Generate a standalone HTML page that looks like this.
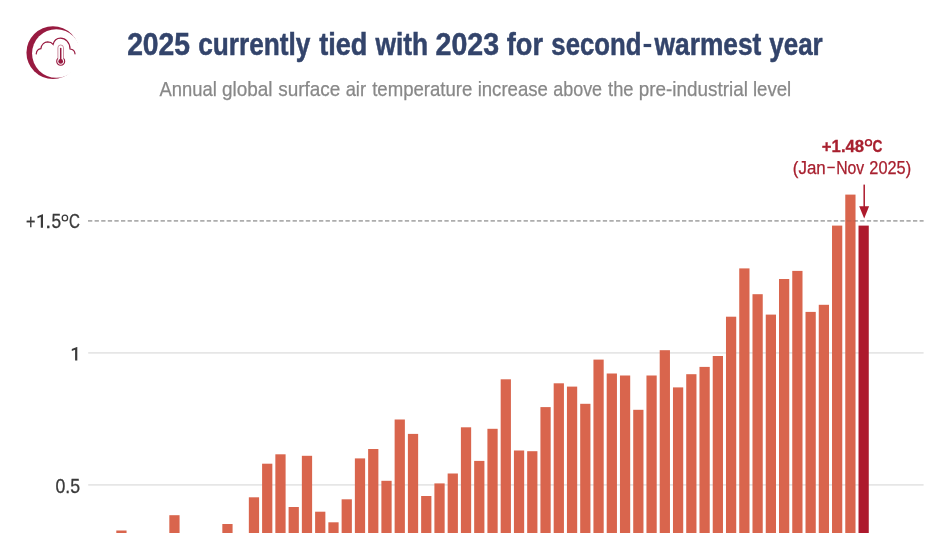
<!DOCTYPE html>
<html><head><meta charset="utf-8"><title>chart</title>
<style>
html,body{margin:0;padding:0;background:#fff;overflow:hidden;}
svg{display:block;opacity:0.9999;}
text{font-family:"Liberation Sans",sans-serif;}
</style></head>
<body>
<svg width="950" height="533" viewBox="0 0 950 533">
<rect width="950" height="533" fill="#ffffff"/>
<!-- logo -->
<g id="logo">
<defs><mask id="cm" maskUnits="userSpaceOnUse" x="0" y="0" width="120" height="120"><rect x="0" y="0" width="120" height="120" fill="#fff"/><circle cx="56.3" cy="53.49" r="24.25" fill="#000"/></mask></defs>
<circle cx="52.9" cy="52.65" r="26.45" fill="#981a40" mask="url(#cm)"/>
<path d="M36.2,53.8 C36.6,51 38.5,49 40.9,48.7 C41.5,44.5 44.5,42 47.7,41.9 C50,41.9 52,42.8 53.1,44.3 C54,40.8 57,38.2 60.5,38.2 C65.5,38.2 70,42.5 70,49 C72.8,49.3 74.8,51.2 75,53.8" fill="none" stroke="#981a40" stroke-width="1.2" stroke-linecap="round"/>
<path d="M57.9,58.4 V47.8 a2.8,2.8 0 0 1 5.6,0 V58.4" fill="none" stroke="#981a40" stroke-width="0.9" opacity="0.55"/>
<path d="M57.9,58.4 A4,4 0 1 0 63.5,58.4" fill="none" stroke="#981a40" stroke-width="1.1"/>
<line x1="60.7" x2="60.7" y1="48.6" y2="61" stroke="#981a40" stroke-width="1.5" stroke-linecap="round"/>
<circle cx="60.7" cy="61.4" r="2.4" fill="#981a40"/>
</g>
<!-- title + subtitle -->
<text x="127.15" y="54.90" font-size="31.6" font-weight="bold" fill="#33446b" stroke="#33446b" stroke-width="0.5" textLength="62.92" lengthAdjust="spacingAndGlyphs">2025</text>
<text x="198.17" y="54.90" font-size="31.6" font-weight="bold" fill="#33446b" stroke="#33446b" stroke-width="0.5" textLength="112.25" lengthAdjust="spacingAndGlyphs">currently</text>
<text x="319.18" y="54.90" font-size="31.6" font-weight="bold" fill="#33446b" stroke="#33446b" stroke-width="0.5" textLength="48.23" lengthAdjust="spacingAndGlyphs">tied</text>
<text x="375.53" y="54.90" font-size="31.6" font-weight="bold" fill="#33446b" stroke="#33446b" stroke-width="0.5" textLength="52.67" lengthAdjust="spacingAndGlyphs">with</text>
<text x="435.58" y="54.90" font-size="31.6" font-weight="bold" fill="#33446b" stroke="#33446b" stroke-width="0.5" textLength="63.48" lengthAdjust="spacingAndGlyphs">2023</text>
<text x="506.83" y="54.90" font-size="31.6" font-weight="bold" fill="#33446b" stroke="#33446b" stroke-width="0.5" textLength="36.15" lengthAdjust="spacingAndGlyphs">for</text>
<text x="551.35" y="54.90" font-size="31.6" font-weight="bold" fill="#33446b" stroke="#33446b" stroke-width="0.5" textLength="90.11" lengthAdjust="spacingAndGlyphs">second</text>
<text x="654.59" y="54.90" font-size="31.6" font-weight="bold" fill="#33446b" stroke="#33446b" stroke-width="0.5" textLength="106.76" lengthAdjust="spacingAndGlyphs">warmest</text>
<text x="769.27" y="54.90" font-size="31.6" font-weight="bold" fill="#33446b" stroke="#33446b" stroke-width="0.5" textLength="53.47" lengthAdjust="spacingAndGlyphs">year</text>
<text x="821.83" y="151.70" font-size="17.2" font-weight="bold" fill="#a8202f" stroke="#a8202f" stroke-width="0.3" textLength="42.35" lengthAdjust="spacingAndGlyphs">+1.48</text>
<text x="872.49" y="151.70" font-size="17.2" font-weight="bold" fill="#a8202f" stroke="#a8202f" stroke-width="0.3" textLength="9.89" lengthAdjust="spacingAndGlyphs">C</text>
<text x="792.85" y="174.00" font-size="17.5" fill="#a8202f" stroke="#a8202f" stroke-width="0.25" textLength="32.93" lengthAdjust="spacingAndGlyphs">(Jan</text>
<text x="836.13" y="174.00" font-size="17.5" fill="#a8202f" stroke="#a8202f" stroke-width="0.25" textLength="28.07" lengthAdjust="spacingAndGlyphs">Nov</text>
<text x="869.37" y="174.00" font-size="17.5" fill="#a8202f" stroke="#a8202f" stroke-width="0.25" textLength="41.76" lengthAdjust="spacingAndGlyphs">2025)</text>
<text x="26.10" y="228.50" font-size="19.4" fill="#3a3a3a" stroke="#3a3a3a" stroke-width="0.3" textLength="9.42" lengthAdjust="spacingAndGlyphs">+</text>
<text x="45.37" y="227.80" font-size="19.4" fill="#3a3a3a" stroke="#3a3a3a" stroke-width="0.3" textLength="5.93" lengthAdjust="spacingAndGlyphs">.</text>
<text x="51.61" y="227.80" font-size="19.4" fill="#3a3a3a" stroke="#3a3a3a" stroke-width="0.3" textLength="9.64" lengthAdjust="spacingAndGlyphs">5</text>
<text x="68.97" y="227.80" font-size="19.4" fill="#3a3a3a" stroke="#3a3a3a" stroke-width="0.3" textLength="10.89" lengthAdjust="spacingAndGlyphs">C</text>
<text x="55.54" y="492.90" font-size="19.8" fill="#3a3a3a" stroke="#3a3a3a" stroke-width="0.3" textLength="24.59" lengthAdjust="spacingAndGlyphs">0.5</text>
<text x="159.47" y="96.00" font-size="20.7" fill="#888888" stroke="#888888" stroke-width="0.25" textLength="57.29" lengthAdjust="spacingAndGlyphs">Annual</text>
<text x="221.91" y="96.00" font-size="20.7" fill="#888888" stroke="#888888" stroke-width="0.25" textLength="50.58" lengthAdjust="spacingAndGlyphs">global</text>
<text x="278.20" y="96.00" font-size="20.7" fill="#888888" stroke="#888888" stroke-width="0.25" textLength="62.12" lengthAdjust="spacingAndGlyphs">surface</text>
<text x="345.65" y="96.00" font-size="20.7" fill="#888888" stroke="#888888" stroke-width="0.25" textLength="20.40" lengthAdjust="spacingAndGlyphs">air</text>
<text x="372.14" y="96.00" font-size="20.7" fill="#888888" stroke="#888888" stroke-width="0.25" textLength="100.28" lengthAdjust="spacingAndGlyphs">temperature</text>
<text x="477.67" y="96.00" font-size="20.7" fill="#888888" stroke="#888888" stroke-width="0.25" textLength="70.24" lengthAdjust="spacingAndGlyphs">increase</text>
<text x="553.23" y="96.00" font-size="20.7" fill="#888888" stroke="#888888" stroke-width="0.25" textLength="48.87" lengthAdjust="spacingAndGlyphs">above</text>
<text x="608.09" y="96.00" font-size="20.7" fill="#888888" stroke="#888888" stroke-width="0.25" textLength="25.47" lengthAdjust="spacingAndGlyphs">the</text>
<text x="638.82" y="96.00" font-size="20.7" fill="#888888" stroke="#888888" stroke-width="0.25" textLength="109.05" lengthAdjust="spacingAndGlyphs">pre-industrial</text>
<text x="752.90" y="96.00" font-size="20.7" fill="#888888" stroke="#888888" stroke-width="0.25" textLength="38.35" lengthAdjust="spacingAndGlyphs">level</text>
<!-- gridlines -->
<line x1="88.2" x2="923.6" y1="352.9" y2="352.9" stroke="#e6e6e6" stroke-width="1.7"/>
<line x1="88.2" x2="923.6" y1="484.8" y2="484.8" stroke="#e6e6e6" stroke-width="1.7"/>
<!-- dashed 1.5 line -->
<line x1="88" x2="923.6" y1="220.85" y2="220.85" stroke="#adadad" stroke-width="1.7" stroke-dasharray="4.3 2.3"/>
<defs><clipPath id="bc"><rect x="845" y="215" width="11.2" height="12"/></clipPath></defs>
<!-- bars -->
<rect x="116.30" y="530.5" width="10.25" height="9.5" fill="#d9654d"/>
<rect x="169.32" y="515.2" width="10.25" height="24.8" fill="#d9654d"/>
<rect x="222.33" y="524.0" width="10.25" height="16.0" fill="#d9654d"/>
<rect x="248.84" y="497.3" width="10.25" height="42.7" fill="#d9654d"/>
<rect x="262.09" y="463.7" width="10.25" height="76.3" fill="#d9654d"/>
<rect x="275.35" y="454.3" width="10.25" height="85.7" fill="#d9654d"/>
<rect x="288.60" y="507.0" width="10.25" height="33.0" fill="#d9654d"/>
<rect x="301.86" y="455.8" width="10.25" height="84.2" fill="#d9654d"/>
<rect x="315.11" y="511.7" width="10.25" height="28.3" fill="#d9654d"/>
<rect x="328.36" y="522.3" width="10.25" height="17.7" fill="#d9654d"/>
<rect x="341.62" y="499.3" width="10.25" height="40.7" fill="#d9654d"/>
<rect x="354.87" y="458.4" width="10.25" height="81.6" fill="#d9654d"/>
<rect x="368.13" y="449.0" width="10.25" height="91.0" fill="#d9654d"/>
<rect x="381.38" y="480.8" width="10.25" height="59.2" fill="#d9654d"/>
<rect x="394.63" y="419.5" width="10.25" height="120.5" fill="#d9654d"/>
<rect x="407.89" y="433.9" width="10.25" height="106.1" fill="#d9654d"/>
<rect x="421.14" y="496.0" width="10.25" height="44.0" fill="#d9654d"/>
<rect x="434.40" y="483.4" width="10.25" height="56.6" fill="#d9654d"/>
<rect x="447.65" y="473.5" width="10.25" height="66.5" fill="#d9654d"/>
<rect x="460.90" y="427.3" width="10.25" height="112.7" fill="#d9654d"/>
<rect x="474.16" y="460.9" width="10.25" height="79.1" fill="#d9654d"/>
<rect x="487.41" y="428.8" width="10.25" height="111.2" fill="#d9654d"/>
<rect x="500.67" y="379.3" width="10.25" height="160.7" fill="#d9654d"/>
<rect x="513.92" y="450.5" width="10.25" height="89.5" fill="#d9654d"/>
<rect x="527.17" y="451.2" width="10.25" height="88.8" fill="#d9654d"/>
<rect x="540.43" y="407.1" width="10.25" height="132.9" fill="#d9654d"/>
<rect x="553.68" y="383.3" width="10.25" height="156.7" fill="#d9654d"/>
<rect x="566.94" y="386.6" width="10.25" height="153.4" fill="#d9654d"/>
<rect x="580.19" y="403.8" width="10.25" height="136.2" fill="#d9654d"/>
<rect x="593.44" y="359.6" width="10.25" height="180.4" fill="#d9654d"/>
<rect x="606.70" y="373.5" width="10.25" height="166.5" fill="#d9654d"/>
<rect x="619.95" y="375.5" width="10.25" height="164.5" fill="#d9654d"/>
<rect x="633.21" y="409.8" width="10.25" height="130.2" fill="#d9654d"/>
<rect x="646.46" y="375.5" width="10.25" height="164.5" fill="#d9654d"/>
<rect x="659.71" y="350.2" width="10.25" height="189.8" fill="#d9654d"/>
<rect x="672.97" y="387.4" width="10.25" height="152.6" fill="#d9654d"/>
<rect x="686.22" y="374.2" width="10.25" height="165.8" fill="#d9654d"/>
<rect x="699.48" y="366.9" width="10.25" height="173.1" fill="#d9654d"/>
<rect x="712.73" y="356.0" width="10.25" height="184.0" fill="#d9654d"/>
<rect x="725.98" y="316.7" width="10.25" height="223.3" fill="#d9654d"/>
<rect x="739.24" y="268.4" width="10.25" height="271.6" fill="#d9654d"/>
<rect x="752.49" y="294.2" width="10.25" height="245.8" fill="#d9654d"/>
<rect x="765.75" y="314.6" width="10.25" height="225.4" fill="#d9654d"/>
<rect x="779.00" y="279.0" width="10.25" height="261.0" fill="#d9654d"/>
<rect x="792.25" y="270.9" width="10.25" height="269.1" fill="#d9654d"/>
<rect x="805.51" y="311.9" width="10.25" height="228.1" fill="#d9654d"/>
<rect x="818.76" y="304.8" width="10.25" height="235.2" fill="#d9654d"/>
<rect x="832.02" y="225.6" width="10.25" height="314.4" fill="#d9654d"/>
<rect x="845.27" y="194.6" width="10.25" height="345.4" fill="#d9654d"/>
<rect x="858.52" y="225.6" width="10.25" height="314.4" fill="#ad1a2d"/>
<line x1="88" x2="923.6" y1="220.85" y2="220.85" stroke="#8a5a50" opacity="0.22" stroke-width="1.7" stroke-dasharray="4.3 2.3" clip-path="url(#bc)"/>
<!-- axis labels -->
<path transform="translate(-34.3,-132.75)" d="M77.3,347.1 L77.3,360.6 L75.1,360.6 L75.1,349.7 L71.8,350.9 L71.8,349 L76.9,347.1 Z" fill="#3a3a3a"/>
<ellipse cx="64.9" cy="218.0" rx="2.7" ry="2.9" fill="none" stroke="#3a3a3a" stroke-width="1.3"/>
<rect x="827.3" y="166.7" width="7.5" height="1.5" fill="#a8202f"/>
<rect x="643.6" y="43.9" width="7.6" height="3.2" fill="#33446b"/>
<ellipse cx="868.5" cy="142.75" rx="2.9" ry="3.0" fill="none" stroke="#a8202f" stroke-width="1.7"/>
<path d="M77.3,347.1 L77.3,360.6 L75.1,360.6 L75.1,349.7 L71.8,350.9 L71.8,349 L76.9,347.1 Z" fill="#3a3a3a"/>
<!-- annotation -->
<rect x="863.45" y="184.6" width="1.5" height="23" fill="#ad1a2d"/>
<path d="M859.2,206.2 L869.1,206.2 L864.2,218.6 Z" fill="#ad1a2d"/>
</svg>
</body></html>
